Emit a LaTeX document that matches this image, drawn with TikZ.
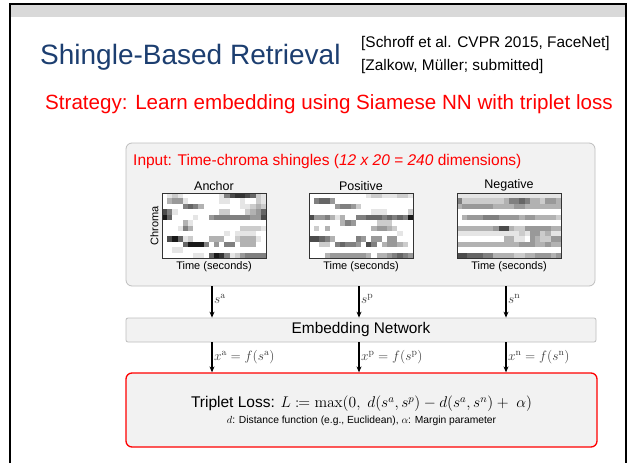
\RequirePackage{fix-cm}
\documentclass[tikz,border=0pt]{standalone}
\usepackage[no-math]{fontspec}
\setmainfont{Liberation Sans}
\usepackage{mathtools}
\usetikzlibrary{arrows.meta}
\definecolor{titleblue}{RGB}{28,62,112}
\definecolor{boxgray}{RGB}{242,242,242}
\definecolor{boxedge}{RGB}{190,190,190}
\definecolor{headgray}{RGB}{217,217,217}
\definecolor{lblgray}{RGB}{60,60,60}
% #1 x, #2 y, #3 rows (12 lists of 20 levels 0-9)
\newcommand\heatmap[3]{%
  \foreach \rowvals [count=\r from 0] in {#3}{%
    \foreach \lv [count=\c from 0] in \rowvals{%
      \pgfmathsetmacro\v{\lv*10}%
      \fill[black!\v] ({#1+\c*5.2},{#2+\r*65/12}) rectangle ++(5.25,{65/12+0.05});
    }%
  }%
}
\begin{document}
\begin{tikzpicture}[x=1pt,y=-1pt,
  graybox/.style={draw=boxedge,fill=boxgray,rounded corners=6pt,line width=0.8pt},
  lossbox/.style={draw=red,fill=boxgray,rounded corners=6pt,line width=1.3pt},
  imgframe/.style={draw=black!80,line width=0.8pt,minimum width=104pt,minimum height=65pt,inner sep=0pt},
  arr/.style={-{Stealth[length=6pt,width=5pt]},line width=1.1pt},
  mlbl/.style={font=\fontsize{13.5}{15}\selectfont,text=lblgray,inner sep=1.5pt},
  imglbl/.style={font=\fontsize{12.5}{14}\selectfont},
  timelbl/.style={font=\fontsize{11}{13}\selectfont}]
\useasboundingbox (0,0) rectangle (628,463);
\fill[white] (0,0) rectangle (628,463);
% slide frame
\fill[headgray] (11,5) rectangle (625,17);
\draw[line width=2.5pt] (10,463) -- (10,4) -- (626,4) -- (626,463);
% header
\node[anchor=west,text=titleblue,font=\fontsize{28}{31}\selectfont,inner sep=0pt] (title) at (40,57) {Shingle-Based Retrieval};
\node[anchor=west,font=\fontsize{15.4}{18}\selectfont,inner sep=0pt] (ref1) at (361,44) {[Schroff et al. CVPR 2015, FaceNet]};
\node[anchor=west,font=\fontsize{15.4}{18}\selectfont,inner sep=0pt] (ref2) at (361,67) {[Zalkow, Müller; submitted]};
\node[anchor=west,text=red,font=\fontsize{20.6}{24}\selectfont,inner sep=0pt] (strat) at (45,104) {Strategy: Learn embedding using Siamese NN with triplet loss};
% input box
\node[graybox,minimum width=469pt,minimum height=143pt] (inp) at (360.5,214.5) {};
\node[anchor=west,text=red,font=\fontsize{15.5}{18}\selectfont,inner sep=0pt] (inlbl) at (133,161) {Input: Time-chroma shingles (\textit{12 x 20 = 240} dimensions)};
% heatmaps
\heatmap{162}{193}{%
{0,1,2,1,0,0,0,0,0,0,0,1,5,7,8,8,7,6,2,1},
{0,3,4,4,1,0,0,0,0,0,0,1,1,0,0,1,0,0,2,1},
{0,0,0,0,5,6,5,3,0,0,0,0,0,0,0,1,1,2,3,2},
{7,5,1,0,0,0,0,0,0,0,0,2,2,0,0,0,2,3,4,6},
{9,6,0,0,0,0,1,0,0,4,5,5,5,5,5,5,5,4,4,7},
{0,0,0,0,3,1,0,0,0,0,0,0,0,0,0,0,0,0,0,0},
{0,0,0,1,5,3,0,0,0,0,0,0,0,0,0,2,2,2,2,1},
{0,0,0,0,0,0,0,0,0,0,0,0,1,0,1,1,1,1,0,0},
{0,7,9,6,1,2,0,0,0,3,3,3,0,0,2,3,3,3,1,0},
{0,0,0,0,6,9,9,9,5,0,4,0,5,5,0,3,3,3,0,0},
{0,0,1,1,0,0,0,0,0,0,0,0,0,0,0,0,0,0,0,0},
{0,0,0,0,0,0,1,1,0,6,9,8,5,1,2,4,5,5,5,5}}
\heatmap{309}{193}{%
{0,0,0,0,0,0,0,0,0,0,0,1,2,2,1,1,1,2,2,1},
{0,5,6,6,4,0,0,0,0,0,0,0,0,0,0,0,0,0,0,0},
{0,0,0,0,0,4,5,5,4,2,0,0,0,0,0,0,0,0,0,0},
{0,0,0,0,0,0,0,0,0,0,0,0,1,1,1,0,0,0,0,2},
{7,4,4,5,3,1,3,0,0,5,5,6,6,6,5,6,5,6,5,9},
{0,0,0,0,0,0,3,5,4,0,0,0,0,2,2,2,0,0,0,0},
{0,2,0,3,0,0,0,0,0,0,0,0,3,4,4,3,2,0,0,0},
{0,0,0,0,0,0,0,0,0,0,0,0,0,0,0,0,0,1,0,0},
{7,7,6,5,3,0,0,0,0,5,4,0,4,4,0,4,4,0,0,0},
{0,0,2,2,0,5,6,5,5,4,0,7,5,0,3,4,4,3,2,0},
{0,0,0,0,0,0,0,0,0,0,0,0,0,0,0,0,0,0,0,0},
{0,0,0,3,4,4,4,4,4,4,4,3,0,3,3,4,5,6,5,4}}
\heatmap{457}{193}{%
{1,1,1,1,1,1,1,1,1,1,1,1,1,1,1,1,1,1,1,1},
{5,2,2,2,2,2,2,2,2,3,5,5,6,5,3,3,2,4,4,3},
{3,4,4,4,4,4,4,3,3,3,3,4,4,3,3,3,3,3,3,3},
{0,0,0,0,0,0,0,0,0,0,0,0,0,0,0,0,0,0,0,0},
{0,3,4,4,4,5,5,5,4,4,4,4,3,4,4,3,3,3,3,2},
{0,0,0,0,0,0,0,0,0,0,0,0,0,0,0,0,0,0,0,0},
{3,3,3,3,3,3,3,4,7,7,3,2,2,4,4,4,4,4,3,3},
{1,1,1,1,1,1,1,1,1,1,1,1,2,1,4,4,2,3,1,1},
{0,0,0,0,0,0,0,0,0,3,3,1,1,0,4,3,2,2,4,4},
{3,3,3,3,3,3,3,3,3,3,3,3,4,4,4,3,3,4,3,3},
{0,0,0,0,0,0,0,0,0,0,0,0,0,0,0,0,0,0,0,0},
{7,7,6,6,6,5,5,3,3,3,3,2,2,3,3,4,4,4,3,4}}
\node[imgframe] (imA) at (214,225.5) {};
\node[imgframe] (imP) at (361,225.5) {};
\node[imgframe] (imN) at (509,225.5) {};
\node[imglbl,anchor=south,inner sep=1.5pt] (tA) at (imA.north) {Anchor};
\node[imglbl,anchor=south,inner sep=1.5pt] (tP) at (imP.north) {Positive};
\node[imglbl,anchor=south,inner sep=1.5pt] (tN) at (imN.north) {Negative};
\node[timelbl,anchor=north,inner sep=2.5pt] (xA) at (imA.south) {Time (seconds)};
\node[timelbl,anchor=north,inner sep=2.5pt] (xP) at (imP.south) {Time (seconds)};
\node[timelbl,anchor=north,inner sep=2.5pt] (xN) at (imN.south) {Time (seconds)};
\node[timelbl,rotate=90,anchor=south,inner sep=3pt] (yA) at (imA.west) {Chroma};
% embedding network
\node[graybox,rounded corners=2pt,minimum width=470pt,minimum height=24pt,font=\fontsize{15.4}{18}\selectfont] (emb) at (361,330) {Embedding Network};
% loss box
\node[lossbox,minimum width=471pt,minimum height=74pt] (loss) at (361.5,410) {};
\node[font=\fontsize{15.5}{18}\selectfont,inner sep=0pt] (losstxt) at (361.5,404)
 {Triplet Loss: $L \coloneqq \max(0,\ d(s^a,s^p)-d(s^a,s^n)+\ \alpha)$};
\node[font=\fontsize{10.3}{12}\selectfont,inner sep=0pt] (losssub) at (361.5,420.5)
 {$d$: Distance function (e.g., Euclidean), $\alpha$: Margin parameter};
% arrows
\coordinate (ca) at (212,0);
\coordinate (cp) at (359,0);
\coordinate (cn) at (506,0);
\draw[arr] (inp.south -| ca) -- node[mlbl,anchor=west,pos=0.4] {$s^{\mathrm{a}}$} (emb.north -| ca);
\draw[arr] (inp.south -| cp) -- node[mlbl,anchor=west,pos=0.4] {$s^{\mathrm{p}}$} (emb.north -| cp);
\draw[arr] (inp.south -| cn) -- node[mlbl,anchor=west,pos=0.4] {$s^{\mathrm{n}}$} (emb.north -| cn);
\draw[arr] (emb.south -| ca) -- node[mlbl,anchor=west,pos=0.5] {$x^{\mathrm{a}}=f(s^{\mathrm{a}})$} (loss.north -| ca);
\draw[arr] (emb.south -| cp) -- node[mlbl,anchor=west,pos=0.5] {$x^{\mathrm{p}}=f(s^{\mathrm{p}})$} (loss.north -| cp);
\draw[arr] (emb.south -| cn) -- node[mlbl,anchor=west,pos=0.5] {$x^{\mathrm{n}}=f(s^{\mathrm{n}})$} (loss.north -| cn);
\end{tikzpicture}
\end{document}
